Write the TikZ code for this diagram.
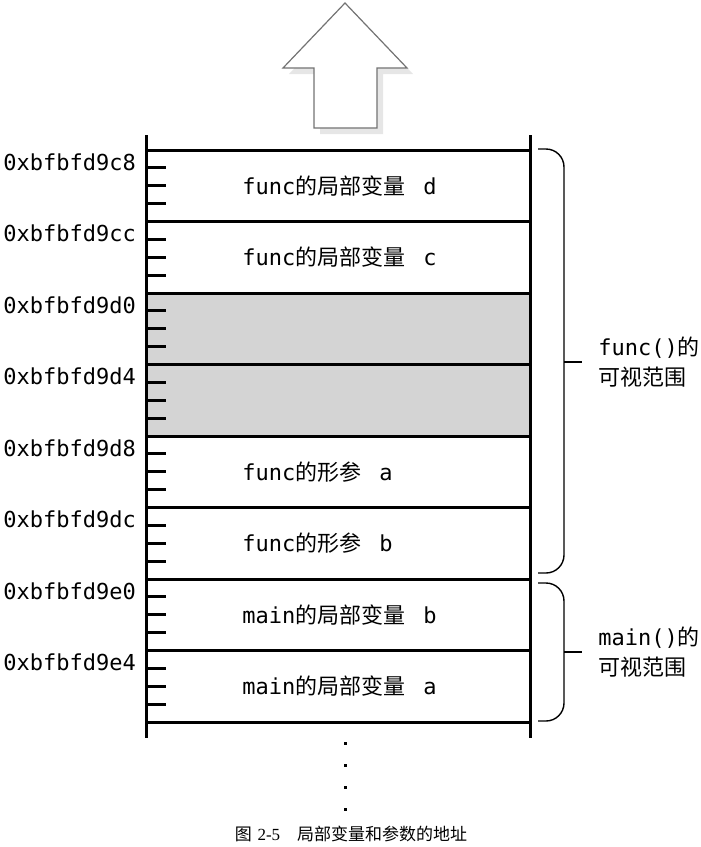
\documentclass[tikz,border=0pt]{standalone}
\usepackage{fontspec}
\setmonofont{DejaVu Sans Mono}
\newfontfamily\cjk{Noto Sans CJK SC}
\newfontfamily\capserif{Liberation Serif}
\usetikzlibrary{shadows,positioning}
\tikzset{
	thick,
	>=latex,
	addr/.style = {
			anchor=west, inner sep=0pt,
			font=\ttfamily\fontsize{11}{13}\selectfont,
		},
	slot/.style = {
			anchor=west, inner sep=0pt,
			font=\ttfamily\fontsize{11}{13}\selectfont,
		},
	scopelabel/.style = {
			anchor=west, inner xsep=8pt, inner ysep=0pt, align=left,
			font=\ttfamily\fontsize{11}{15}\selectfont,
		},
	memline/.style = {line width=1.5pt},
	scopeline/.style = {line width=0.7pt, rounded corners=9pt},
}

\begin{document}
\begin{tikzpicture}[x=0.5pt,y=-0.5pt]
		\useasboundingbox (0,0) rectangle (701,847);

		% stack grows upward
		\draw[draw=black!55, fill=white, line width=0.6pt,
			drop shadow={shadow xshift=3pt, shadow yshift=-3pt, opacity=0.2}]
			(345,3) -- (407,68) -- (377,68) -- (377,128) -- (314,128) -- (314,68) -- (283,68) -- cycle;

		\fill[black!17] (146,293) rectangle (530,436);

		\draw[memline] (146,135) -- (146,738);
		\draw[memline] (530,135) -- (530,738);
		\foreach \y in {150,221.5,293,364.5,436,507.5,579,650.5,722}
			\draw[memline] (146,\y) -- (530,\y);
		\foreach \y in {150,221.5,293,364.5,436,507.5,579,650.5}
			\foreach \k in {1,2,3}
				\draw[memline] (146,{\y+\k*17.875}) -- (166,{\y+\k*17.875});

		\node[addr] at (3,162) (addrc8) {0xbfbfd9c8};
		\node[addr] at (3,233.5) (addrcc) {0xbfbfd9cc};
		\node[addr] at (3,305) (addrd0) {0xbfbfd9d0};
		\node[addr] at (3,376.5) (addrd4) {0xbfbfd9d4};
		\node[addr] at (3,448) (addrd8) {0xbfbfd9d8};
		\node[addr] at (3,519.5) (addrdc) {0xbfbfd9dc};
		\node[addr] at (3,591) (addre0) {0xbfbfd9e0};
		\node[addr] at (3,662.5) (addre4) {0xbfbfd9e4};

		\node[slot] at (242,186) (funcd) {func{\cjk 的局部变量}\hspace{9pt}d};
		\node[slot] at (242,257.5) (funcc) {func{\cjk 的局部变量}\hspace{9pt}c};
		\node[slot] at (242,472) (funca) {func{\cjk 的形参}\hspace{9pt}a};
		\node[slot] at (242,543.5) (funcb) {func{\cjk 的形参}\hspace{9pt}b};
		\node[slot] at (242,615) (mainb) {main{\cjk 的局部变量}\hspace{9pt}b};
		\node[slot] at (242,686.5) (maina) {main{\cjk 的局部变量}\hspace{9pt}a};

		\node[scopelabel] at (582,362) (funcscope) {func(){\cjk 的}\\{\cjk 可视范围}};
		\node[scopelabel] at (582,652) (mainscope) {main(){\cjk 的}\\{\cjk 可视范围}};

		\draw[scopeline] (538,149) -- (564,149) -- (564,573) -- (538,573);
		\draw[scopeline] (564,362) -- (funcscope.west);
		\draw[scopeline] (538,583) -- (564,583) -- (564,721) -- (538,721);
		\draw[scopeline] (564,652) -- (mainscope.west);

		\fill (343.5,741.5) rectangle +(3.5,3.5);
		\fill (343.5,763.5) rectangle +(3.5,3.5);
		\fill (343.5,785.5) rectangle +(3.5,3.5);
		\fill (343.5,807.5) rectangle +(3.5,3.5);

		\node[font=\fontsize{8.5}{10}\selectfont] at (351,834) (caption)
			{{\cjk 图} {\capserif 2-5}\hspace{1em}{\cjk 局部变量和参数的地址}};
	\end{tikzpicture}
\end{document}
